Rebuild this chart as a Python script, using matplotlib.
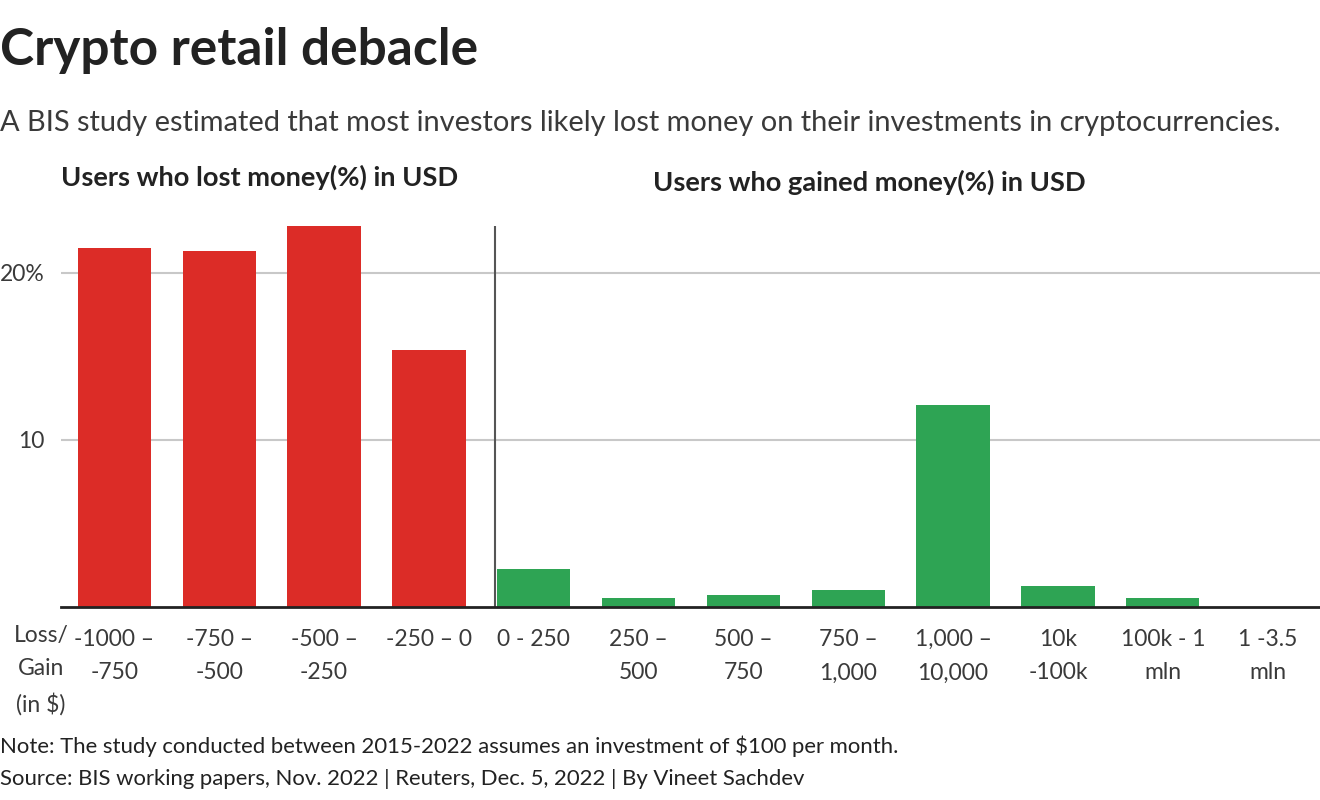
import matplotlib.pyplot as plt

plt.rcParams['font.family'] = ['Lato', 'DejaVu Sans']

loss_labels = ["-1000 –\n-750", "-750 –\n-500", "-500 –\n-250", "-250 – 0"]
loss_values = [21.5, 21.3, 22.8, 15.4]

gain_labels = ["0 - 250", "250 –\n500", "500 –\n750", "750 –\n1,000",
               "1,000 –\n10,000", "10k\n-100k", "100k - 1\nmln", "1 -3.5\nmln"]
gain_values = [2.25, 0.55, 0.72, 1.0, 12.1, 1.25, 0.55, 0.0]

red = "#dc2c27"
green = "#2ea454"
txt = "#3a3a3a"

fig = plt.figure(figsize=(13.2, 8), dpi=100)
ax = fig.add_axes([61 / 1320, 1 - 607 / 800, 1 - 61 / 1320, (607 - 226) / 800])

n_loss = len(loss_values)
x_loss = list(range(n_loss))
x_gain = [n_loss + i for i in range(len(gain_values))]

ax.bar(x_loss, loss_values, width=0.7, color=red, zorder=3)
ax.bar(x_gain, gain_values, width=0.7, color=green, zorder=3)

ax.set_xlim(-0.51, 11.5)
ax.set_ylim(0, 22.8)

ax.set_yticks([10, 20])
ax.set_yticklabels(["10", "20%"])
ax.yaxis.grid(True, color="#c8c8c8", linewidth=1.5, zorder=0)
ax.tick_params(axis="y", length=0, pad=12, labelsize=16.5, labelcolor=txt)

ax.set_xticks(x_loss + x_gain)
ax.set_xticklabels(loss_labels + gain_labels, linespacing=1.72)
ax.tick_params(axis="x", length=0, pad=16, labelsize=16.5, labelcolor=txt)

for s in ["top", "right", "left"]:
    ax.spines[s].set_visible(False)
ax.spines["bottom"].set_color("#222222")
ax.spines["bottom"].set_linewidth(2)
ax.spines["bottom"].set_zorder(4)

ax.axvline(3.63, color="#555555", linewidth=1.5, zorder=4)

fig.text(41 / 1320, 1 - 625 / 800, "Loss/\nGain\n(in $)", ha="center", va="top",
         fontsize=16.5, color=txt, linespacing=1.72)

fig.text(0, 1 - 50 / 800, "Crypto retail debacle", fontsize=37, fontweight="bold",
         color="#222222", va="center", ha="left")
fig.text(0, 1 - 123 / 800,
         "A BIS study estimated that most investors likely lost money on their investments in cryptocurrencies.",
         fontsize=20.9, color=txt, va="center", ha="left")
fig.text(61 / 1320, 1 - 177 / 800, "Users who lost money(%) in USD", fontsize=19.6,
         fontweight="bold", color="#222222", va="center", ha="left")
fig.text(653 / 1320, 1 - 182 / 800, "Users who gained money(%) in USD", fontsize=19.6,
         fontweight="bold", color="#222222", va="center", ha="left")

fig.text(0, 1 - 746 / 800,
         "Note: The study conducted between 2015-2022 assumes an investment of $100 per month.",
         fontsize=15.9, color="#222222", va="center", ha="left")
fig.text(0, 1 - 779 / 800,
         "Source: BIS working papers, Nov. 2022 | Reuters, Dec. 5, 2022 | By Vineet Sachdev",
         fontsize=15.9, color="#222222", va="center", ha="left")

fig.savefig("out.png", dpi=100)
